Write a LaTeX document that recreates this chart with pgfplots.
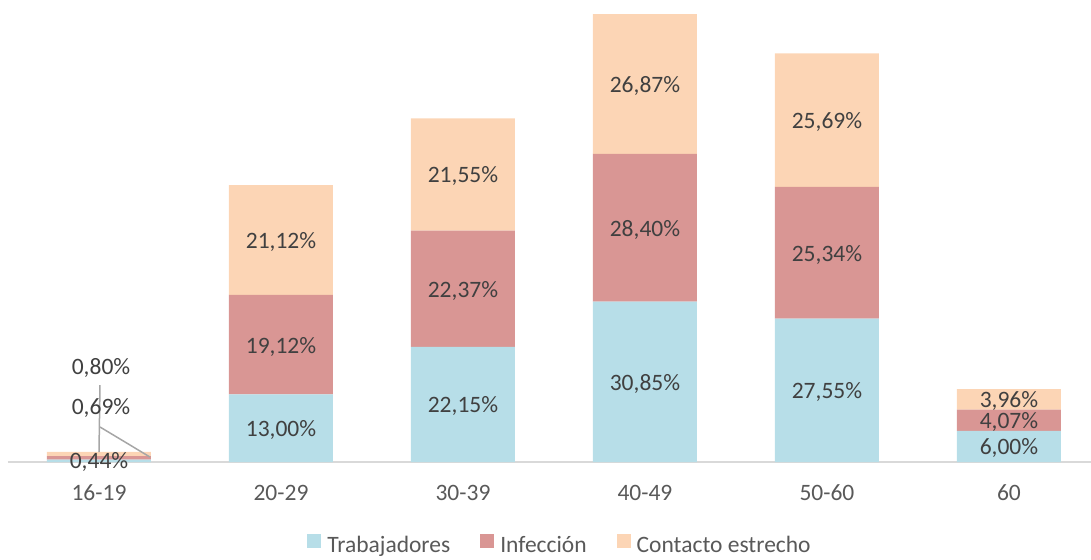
\documentclass[border=0pt]{standalone}
\usepackage{pgfplots}
\pgfplotsset{compat=1.18}
\usepackage{fontspec}
\setmainfont{Carlito}
\definecolor{cT}{RGB}{183,222,232}
\definecolor{cI}{RGB}{217,150,148}
\definecolor{cC}{RGB}{252,213,181}
\definecolor{lab}{RGB}{64,64,64}
\definecolor{tickc}{RGB}{89,89,89}
\definecolor{axl}{RGB}{217,217,217}
\definecolor{lead}{RGB}{166,166,166}
\begin{document}
\begin{tikzpicture}[font=\fontsize{23.5}{28}\selectfont]
\useasboundingbox (-8pt,-97pt) rectangle (1083pt,462pt);
\begin{axis}[
  at={(0pt,0pt)}, anchor=south west,
  scale only axis, width=1092pt, height=462pt,
  xmin=-0.5, xmax=5.5, ymin=0, ymax=88.85,
  clip=false,
  ybar stacked, bar width=104pt,
  axis y line=none, axis x line*=bottom,
  x axis line style={-, draw=axl, line width=1.2pt},
  xtick={0,...,5},
  xticklabels={16-19,20-29,30-39,40-49,50-60,60},
  xtick style={draw=none},
  x tick label style={text=tickc, anchor=center, yshift=-31pt},
  point meta=explicit symbolic,
  nodes near coords,
  every node near coord/.append style={text=lab, anchor=center, inner sep=0.5pt, yshift=-2pt},
  legend columns=3,
  legend style={at={(0.5055,-0.1797)}, anchor=center, draw=none, fill=none,
    text=tickc, /tikz/every even column/.append style={column sep=28pt},
    /tikz/every odd column/.append style={column sep=4pt}},
  legend cell align=left,
  legend image code/.code={\fill[#1,draw=none] (0pt,-2pt) rectangle (14pt,12pt);},
]
\addplot[fill=cT, draw=none] coordinates {(0,0.44) [{}] (1,13.00) [13,00\%] (2,22.15) [22,15\%] (3,30.85) [30,85\%] (4,27.55) [27,55\%] (5,6.00) [6,00\%]};
\addplot[fill=cI, draw=none] coordinates {(0,0.69) [{}] (1,19.12) [19,12\%] (2,22.37) [22,37\%] (3,28.40) [28,40\%] (4,25.34) [25,34\%] (5,4.07) [4,07\%]};
\addplot[fill=cC, draw=none] coordinates {(0,0.80) [{}] (1,21.12) [21,12\%] (2,21.55) [21,55\%] (3,26.87) [26,87\%] (4,25.69) [25,69\%] (5,3.96) [3,96\%]};
\legend{Trabajadores, Infección, Contacto estrecho}
\coordinate (v1) at (axis cs:0.0055,14.8);
\coordinate (v2) at (axis cs:0,1.92);
\coordinate (d1) at (axis cs:0.0055,6.73);
\coordinate (d2) at (axis cs:0.28,0.96);
\coordinate (l80) at (axis cs:0.011,18.1);
\coordinate (l69) at (axis cs:0.011,10.4);
\coordinate (l44) at (axis cs:0,0);
\end{axis}
\draw[lead, line width=1.5pt] (v1) -- (v2);
\draw[lead, line width=1.5pt] (d1) -- (d2);
\node[text=lab, inner sep=0.5pt] at (l80) {0,80\%};
\node[text=lab, inner sep=0.5pt] at (l69) {0,69\%};
\node[text=lab, inner sep=0.5pt] at (l44) {0,44\%};
\end{tikzpicture}
\end{document}
